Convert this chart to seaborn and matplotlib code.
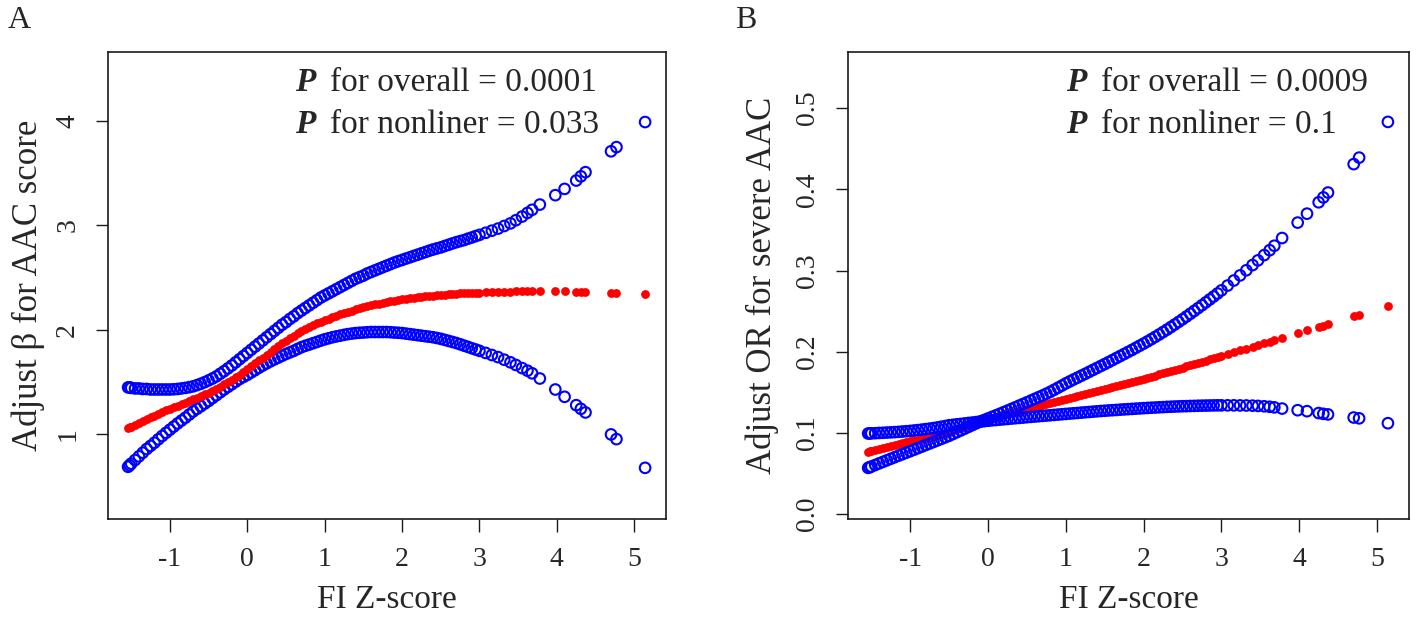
import matplotlib
matplotlib.use("Agg")
import matplotlib.pyplot as plt
import seaborn as sns
import pandas as pd

# FI Z-score of the plotted observations (shared by both panels)
fi_z = [-1.54, -1.52, -1.50, -1.45, -1.40, -1.35, -1.30, -1.25, -1.20, -1.15,
        -1.10, -1.05, -1.00, -0.95, -0.90, -0.85, -0.80, -0.75, -0.70, -0.65,
        -0.60, -0.55, -0.50, -0.45, -0.40, -0.35, -0.30, -0.25, -0.20, -0.15,
        -0.10, -0.05, 0.00, 0.05, 0.10, 0.15, 0.20, 0.25, 0.30, 0.35,
        0.40, 0.45, 0.50, 0.55, 0.60, 0.65, 0.70, 0.75, 0.80, 0.85,
        0.90, 0.95, 1.00, 1.05, 1.10, 1.15, 1.20, 1.25, 1.30, 1.35,
        1.40, 1.45, 1.50, 1.55, 1.60, 1.65, 1.70, 1.75, 1.80, 1.85,
        1.90, 1.95, 2.00, 2.05, 2.10, 2.15, 2.20, 2.25, 2.30, 2.35,
        2.40, 2.45, 2.50, 2.55, 2.60, 2.65, 2.70, 2.75, 2.80, 2.85,
        2.90, 2.95, 3.00, 3.08, 3.16, 3.24, 3.32, 3.40, 3.47, 3.55,
        3.62, 3.68, 3.78, 3.98, 4.10, 4.25, 4.31, 4.37, 4.70, 4.77,
        5.14]

# panel A: adjusted beta for AAC score
beta_upper = [1.450, 1.450, 1.445, 1.440, 1.440, 1.435, 1.435, 1.430, 1.430, 1.430,
              1.430, 1.430, 1.430, 1.432, 1.435, 1.440, 1.445, 1.452, 1.460, 1.472,
              1.485, 1.500, 1.517, 1.535, 1.555, 1.580, 1.605, 1.632, 1.660, 1.690,
              1.720, 1.750, 1.780, 1.810, 1.840, 1.870, 1.900, 1.930, 1.960, 1.990,
              2.020, 2.050, 2.075, 2.105, 2.130, 2.160, 2.185, 2.210, 2.235, 2.260,
              2.285, 2.310, 2.330, 2.350, 2.370, 2.390, 2.410, 2.430, 2.450, 2.470,
              2.490, 2.505, 2.520, 2.540, 2.555, 2.570, 2.585, 2.600, 2.615, 2.630,
              2.645, 2.658, 2.670, 2.683, 2.695, 2.708, 2.720, 2.733, 2.745, 2.758,
              2.770, 2.780, 2.790, 2.803, 2.815, 2.828, 2.840, 2.850, 2.860, 2.873,
              2.885, 2.898, 2.910, 2.930, 2.950, 2.970, 2.995, 3.020, 3.050, 3.085,
              3.120, 3.150, 3.200, 3.290, 3.350, 3.430, 3.470, 3.510, 3.710, 3.750,
              3.990]
beta_fit = [1.060, 1.068, 1.075, 1.093, 1.110, 1.128, 1.145, 1.163, 1.180, 1.198,
            1.215, 1.230, 1.245, 1.260, 1.275, 1.290, 1.305, 1.320, 1.335, 1.350,
            1.367, 1.383, 1.400, 1.418, 1.437, 1.457, 1.478, 1.500, 1.523, 1.547,
            1.572, 1.598, 1.625, 1.652, 1.680, 1.708, 1.735, 1.762, 1.790, 1.818,
            1.845, 1.872, 1.898, 1.922, 1.945, 1.967, 1.988, 2.008, 2.027, 2.045,
            2.062, 2.078, 2.094, 2.109, 2.123, 2.137, 2.150, 2.162, 2.174, 2.185,
            2.196, 2.206, 2.216, 2.226, 2.235, 2.244, 2.252, 2.260, 2.267, 2.274,
            2.281, 2.287, 2.293, 2.298, 2.303, 2.308, 2.313, 2.317, 2.321, 2.325,
            2.328, 2.332, 2.335, 2.338, 2.341, 2.344, 2.346, 2.349, 2.351, 2.353,
            2.355, 2.357, 2.358, 2.361, 2.363, 2.365, 2.366, 2.367, 2.368, 2.369,
            2.369, 2.370, 2.370, 2.370, 2.368, 2.365, 2.363, 2.361, 2.352, 2.350,
            2.340]
beta_lower = [0.690, 0.705, 0.720, 0.755, 0.790, 0.825, 0.860, 0.890, 0.920, 0.953,
              0.985, 1.015, 1.045, 1.075, 1.105, 1.133, 1.160, 1.190, 1.220, 1.245,
              1.270, 1.295, 1.320, 1.348, 1.375, 1.403, 1.430, 1.455, 1.480, 1.505,
              1.530, 1.550, 1.570, 1.593, 1.615, 1.638, 1.660, 1.680, 1.700, 1.718,
              1.735, 1.753, 1.770, 1.785, 1.800, 1.818, 1.835, 1.848, 1.860, 1.873,
              1.885, 1.898, 1.910, 1.920, 1.930, 1.938, 1.945, 1.953, 1.960, 1.965,
              1.970, 1.973, 1.975, 1.978, 1.980, 1.980, 1.980, 1.980, 1.980, 1.978,
              1.975, 1.973, 1.970, 1.965, 1.960, 1.955, 1.950, 1.945, 1.940, 1.935,
              1.930, 1.923, 1.915, 1.905, 1.895, 1.885, 1.875, 1.863, 1.850, 1.838,
              1.825, 1.813, 1.800, 1.780, 1.760, 1.740, 1.715, 1.690, 1.665, 1.635,
              1.610, 1.585, 1.535, 1.430, 1.360, 1.280, 1.245, 1.210, 1.000, 0.955,
              0.680]

# panel B: adjusted OR for severe AAC
or_upper = [0.0993, 0.0994, 0.0995, 0.0997, 0.1000, 0.1002, 0.1005, 0.1007, 0.1010, 0.1013,
            0.1017, 0.1021, 0.1025, 0.1030, 0.1035, 0.1041, 0.1047, 0.1053, 0.1060, 0.1068,
            0.1076, 0.1085, 0.1095, 0.1100, 0.1106, 0.1111, 0.1117, 0.1123, 0.1128, 0.1134,
            0.1140, 0.1159, 0.1178, 0.1197, 0.1216, 0.1235, 0.1255, 0.1275, 0.1295, 0.1315,
            0.1336, 0.1356, 0.1377, 0.1398, 0.1419, 0.1440, 0.1461, 0.1483, 0.1506, 0.1531,
            0.1557, 0.1583, 0.1610, 0.1634, 0.1658, 0.1681, 0.1705, 0.1728, 0.1752, 0.1776,
            0.1800, 0.1824, 0.1848, 0.1872, 0.1897, 0.1922, 0.1947, 0.1972, 0.1997, 0.2022,
            0.2048, 0.2074, 0.2100, 0.2127, 0.2155, 0.2183, 0.2212, 0.2242, 0.2272, 0.2303,
            0.2335, 0.2367, 0.2400, 0.2433, 0.2467, 0.2502, 0.2537, 0.2572, 0.2608, 0.2644,
            0.2680, 0.2717, 0.2755, 0.2815, 0.2877, 0.2940, 0.3003, 0.3067, 0.3125, 0.3190,
            0.3250, 0.3305, 0.3400, 0.3590, 0.3700, 0.3840, 0.3900, 0.3960, 0.4310, 0.4390,
            0.4830]
or_fit = [0.0768, 0.0773, 0.0777, 0.0789, 0.0801, 0.0813, 0.0824, 0.0836, 0.0848, 0.0859,
          0.0871, 0.0883, 0.0895, 0.0907, 0.0919, 0.0931, 0.0943, 0.0955, 0.0967, 0.0979,
          0.0991, 0.1003, 0.1015, 0.1031, 0.1046, 0.1062, 0.1078, 0.1094, 0.1109, 0.1125,
          0.1140, 0.1153, 0.1167, 0.1180, 0.1194, 0.1207, 0.1220, 0.1233, 0.1246, 0.1259,
          0.1272, 0.1284, 0.1296, 0.1308, 0.1320, 0.1332, 0.1344, 0.1356, 0.1368, 0.1380,
          0.1392, 0.1404, 0.1416, 0.1428, 0.1440, 0.1452, 0.1464, 0.1476, 0.1488, 0.1500,
          0.1512, 0.1524, 0.1537, 0.1549, 0.1562, 0.1574, 0.1587, 0.1600, 0.1613, 0.1626,
          0.1639, 0.1652, 0.1665, 0.1679, 0.1693, 0.1707, 0.1721, 0.1735, 0.1749, 0.1763,
          0.1777, 0.1791, 0.1805, 0.1820, 0.1834, 0.1848, 0.1862, 0.1876, 0.1891, 0.1905,
          0.1919, 0.1933, 0.1947, 0.1970, 0.1993, 0.2016, 0.2039, 0.2062, 0.2082, 0.2105,
          0.2125, 0.2143, 0.2172, 0.2230, 0.2262, 0.2305, 0.2322, 0.2339, 0.2435, 0.2455,
          0.2560]
or_lower = [0.0570, 0.0578, 0.0586, 0.0605, 0.0625, 0.0644, 0.0663, 0.0682, 0.0701, 0.0720,
            0.0738, 0.0757, 0.0775, 0.0794, 0.0813, 0.0832, 0.0851, 0.0870, 0.0889, 0.0908,
            0.0927, 0.0946, 0.0965, 0.0987, 0.1009, 0.1031, 0.1053, 0.1075, 0.1097, 0.1119,
            0.1140, 0.1145, 0.1150, 0.1155, 0.1159, 0.1164, 0.1168, 0.1172, 0.1177, 0.1181,
            0.1185, 0.1189, 0.1194, 0.1198, 0.1202, 0.1206, 0.1210, 0.1214, 0.1218, 0.1222,
            0.1226, 0.1230, 0.1234, 0.1238, 0.1242, 0.1246, 0.1250, 0.1254, 0.1258, 0.1262,
            0.1266, 0.1270, 0.1273, 0.1277, 0.1280, 0.1283, 0.1287, 0.1290, 0.1293, 0.1296,
            0.1299, 0.1302, 0.1305, 0.1308, 0.1311, 0.1313, 0.1316, 0.1318, 0.1321, 0.1323,
            0.1325, 0.1327, 0.1329, 0.1330, 0.1332, 0.1333, 0.1335, 0.1336, 0.1337, 0.1338,
            0.1339, 0.1340, 0.1340, 0.1340, 0.1340, 0.1339, 0.1338, 0.1336, 0.1333, 0.1328,
            0.1322, 0.1315, 0.1300, 0.1280, 0.1268, 0.1245, 0.1235, 0.1228, 0.1190, 0.1180,
            0.1120]

x_ticks = [-1, 0, 1, 2, 3, 4, 5]
beta_ticks = [1, 2, 3, 4]
or_ticks = [0.0, 0.1, 0.2, 0.3, 0.4, 0.5]
or_tick_labels = ["0.0", "0.1", "0.2", "0.3", "0.4", "0.5"]

sns.set_style("white")
plt.rcParams["font.family"] = ["Liberation Serif", "DejaVu Serif"]


def draw_panel(ax, df, fit_on_top):
    z_fit = 4 if fit_on_top else 2
    for col in ["upper", "lower"]:
        sns.scatterplot(data=df, x="fi_z", y=col, ax=ax, marker="o", s=58,
                        color="blue", facecolor="none", edgecolor="blue",
                        linewidth=1.5, zorder=3, legend=False)
    sns.scatterplot(data=df, x="fi_z", y="fit", ax=ax, marker="o", s=40,
                    color="red", linewidth=0, zorder=z_fit, legend=False)
    ax.set_xlim(-1.80, 5.41)
    ax.set_xticks(x_ticks)
    ax.set_xticklabels([str(t) for t in x_ticks])
    ax.set_xlabel("FI Z-score", fontsize=24)
    ax.xaxis.set_label_coords(0.5, -0.14)
    ax.tick_params(direction="out", length=9, width=1.0, labelsize=20, pad=11,
                   color="#1a1a1a", bottom=True, left=True)
    ax.tick_params(axis="y", labelrotation=90)
    for sp in ax.spines.values():
        sp.set_linewidth(1.2)
        sp.set_color("#1a1a1a")


fig = plt.figure(figsize=(14.17, 6.27), dpi=100)
ax_a = fig.add_axes([0.0762, 0.1722, 0.3938, 0.7448])
ax_b = fig.add_axes([0.5984, 0.1722, 0.3959, 0.7448])

df_a = pd.DataFrame({"fi_z": fi_z, "upper": beta_upper, "fit": beta_fit, "lower": beta_lower})
df_b = pd.DataFrame({"fi_z": fi_z, "upper": or_upper, "fit": or_fit, "lower": or_lower})

draw_panel(ax_a, df_a, fit_on_top=True)
ax_a.set_ylim(0.19, 4.66)
ax_a.set_yticks(beta_ticks)
ax_a.set_yticklabels([str(t) for t in beta_ticks])
for lab in ax_a.get_yticklabels():
    lab.set_va("center")
ax_a.set_ylabel("Adjust \u03b2 for AAC score", fontsize=25)
ax_a.yaxis.set_label_coords(-0.112, 0.5)

draw_panel(ax_b, df_b, fit_on_top=False)
ax_b.set_ylim(-0.006, 0.569)
ax_b.set_yticks(or_ticks)
ax_b.set_yticklabels(or_tick_labels)
for lab in ax_b.get_yticklabels():
    lab.set_va("center")
ax_b.set_ylabel("Adjust OR for severe AAC", fontsize=25)
ax_b.yaxis.set_label_coords(-0.122, 0.5)

# P value annotations
notes = [
    (ax_a, 0.335, ["for overall = 0.0001", "for nonliner = 0.033"]),
    (ax_b, 0.389, ["for overall = 0.0009", "for nonliner = 0.1"]),
]
for ax, x0, lines in notes:
    for y0, txt in zip([0.934, 0.844], lines):
        ax.text(x0, y0, "P", transform=ax.transAxes, fontsize=24,
                fontweight="bold", style="italic", va="center", ha="left")
        ax.annotate(txt, xy=(x0, y0), xycoords="axes fraction",
                    xytext=(25, 0), textcoords="offset points",
                    fontsize=24, va="center", ha="left")

fig.text(19 / 1417, 1 - 20 / 627, "A", fontsize=23, ha="center", va="center")
fig.text(746 / 1417, 1 - 20 / 627, "B", fontsize=23, ha="center", va="center")

fig.savefig("out.png", dpi=100)
plt.close(fig)
